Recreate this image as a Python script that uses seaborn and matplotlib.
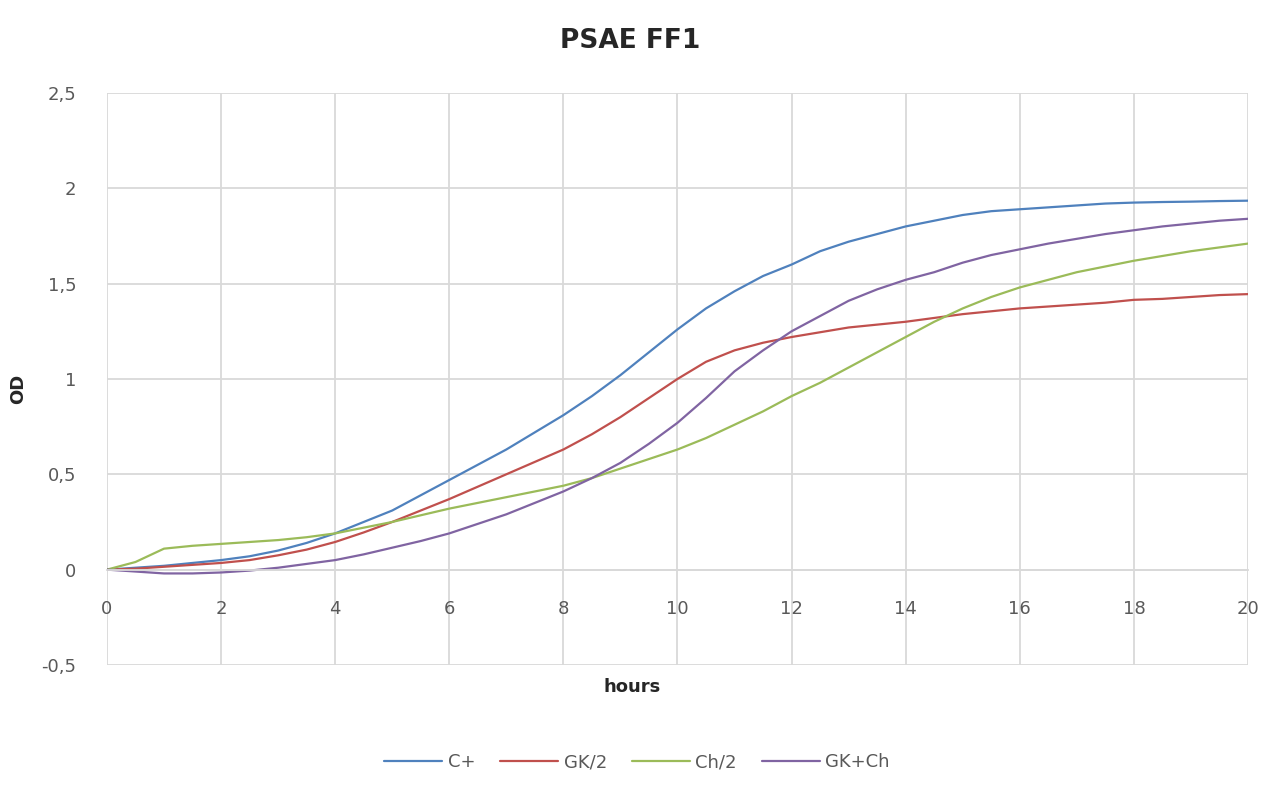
import seaborn as sns
import matplotlib.pyplot as plt
import pandas as pd
from matplotlib.ticker import FuncFormatter

hours = [0, 0.5, 1, 1.5, 2, 2.5, 3, 3.5, 4, 4.5, 5, 5.5, 6, 6.5, 7, 7.5, 8, 8.5, 9, 9.5,
         10, 10.5, 11, 11.5, 12, 12.5, 13, 13.5, 14, 14.5, 15, 15.5, 16, 16.5, 17, 17.5,
         18, 18.5, 19, 19.5, 20]

c_plus = [0, 0.01, 0.02, 0.035, 0.05, 0.07, 0.10, 0.14, 0.19, 0.25, 0.31, 0.39, 0.47, 0.55,
          0.63, 0.72, 0.81, 0.91, 1.02, 1.14, 1.26, 1.37, 1.46, 1.54, 1.60, 1.67, 1.72, 1.76,
          1.80, 1.83, 1.86, 1.88, 1.89, 1.90, 1.91, 1.92, 1.925, 1.928, 1.93, 1.933, 1.935]

gk_2 = [0, 0.005, 0.015, 0.025, 0.035, 0.05, 0.075, 0.105, 0.145, 0.195, 0.25, 0.31, 0.37,
        0.435, 0.50, 0.565, 0.63, 0.71, 0.80, 0.90, 1.0, 1.09, 1.15, 1.19, 1.22, 1.245, 1.27,
        1.285, 1.30, 1.32, 1.34, 1.355, 1.37, 1.38, 1.39, 1.40, 1.415, 1.42, 1.43, 1.44, 1.445]

ch_2 = [0, 0.04, 0.11, 0.125, 0.135, 0.145, 0.155, 0.17, 0.19, 0.22, 0.25, 0.285, 0.32, 0.35,
        0.38, 0.41, 0.44, 0.48, 0.53, 0.58, 0.63, 0.69, 0.76, 0.83, 0.91, 0.98, 1.06, 1.14,
        1.22, 1.30, 1.37, 1.43, 1.48, 1.52, 1.56, 1.59, 1.62, 1.645, 1.67, 1.69, 1.71]

gk_ch = [0, -0.01, -0.02, -0.02, -0.015, -0.005, 0.01, 0.03, 0.05, 0.08, 0.115, 0.15, 0.19,
         0.24, 0.29, 0.35, 0.41, 0.48, 0.56, 0.66, 0.77, 0.90, 1.04, 1.15, 1.25, 1.33, 1.41,
         1.47, 1.52, 1.56, 1.61, 1.65, 1.68, 1.71, 1.735, 1.76, 1.78, 1.80, 1.815, 1.83, 1.84]

series_names = ["C+", "GK/2", "Ch/2", "GK+Ch"]
colors = ["#4F81BD", "#C0504D", "#9BBB59", "#8064A2"]

df = pd.DataFrame({"hours": hours, "C+": c_plus, "GK/2": gk_2, "Ch/2": ch_2, "GK+Ch": gk_ch})
long = df.melt(id_vars="hours", var_name="series", value_name="OD")

sns.set_style("white")
plt.rcParams['font.family'] = ['DejaVu Sans']

fig = plt.figure(figsize=(12.87, 8), dpi=100)
ax = fig.add_axes([0.0831, 0.1688, 0.8866, 0.7150])

sns.lineplot(data=long, x="hours", y="OD", hue="series", hue_order=series_names,
             palette=colors, linewidth=1.6, ax=ax, legend=True)

ax.set_xlim(0, 20)
ax.set_ylim(-0.5, 2.5)
ax.set_xticks(range(0, 21, 2))
ax.set_yticks([-0.5, 0, 0.5, 1, 1.5, 2, 2.5])
ax.yaxis.set_major_formatter(FuncFormatter(lambda v, p: ("%g" % v).replace(".", ",")))
ax.grid(True, color="#D9D9D9", linewidth=1.3)
ax.set_axisbelow(True)
for s in ["top", "right", "left"]:
    ax.spines[s].set_visible(False)
ax.spines["bottom"].set_position(("data", 0))
ax.spines["bottom"].set_color("#D9D9D9")
ax.spines["bottom"].set_linewidth(1.3)
ax.tick_params(axis="both", length=0, labelsize=13, colors="#595959")
ax.tick_params(axis="x", pad=22)
ax.tick_params(axis="y", pad=22)

ax.set_xlabel("")
ax.set_ylabel("")
fig.text(0.4915, 0.141, "hours", ha="center", va="center", fontsize=13,
         fontweight="bold", color="#262626")
fig.text(0.014, 0.5138, "OD", ha="center", va="center", rotation=90, fontsize=13,
         fontweight="bold", color="#262626")
fig.text(0.49, 0.949, "PSAE FF1", ha="center", va="center", fontsize=19,
         fontweight="bold", color="#262626")

ax.get_legend().remove()
handles, labels = ax.get_legend_handles_labels()
fig.legend(handles, labels, loc="center", bbox_to_anchor=(0.495, 0.047), ncol=4,
           frameon=False, fontsize=13, handlelength=3.2, columnspacing=1.4,
           handletextpad=0.3, labelcolor="#595959")

fig.savefig("out.png", dpi=100)
